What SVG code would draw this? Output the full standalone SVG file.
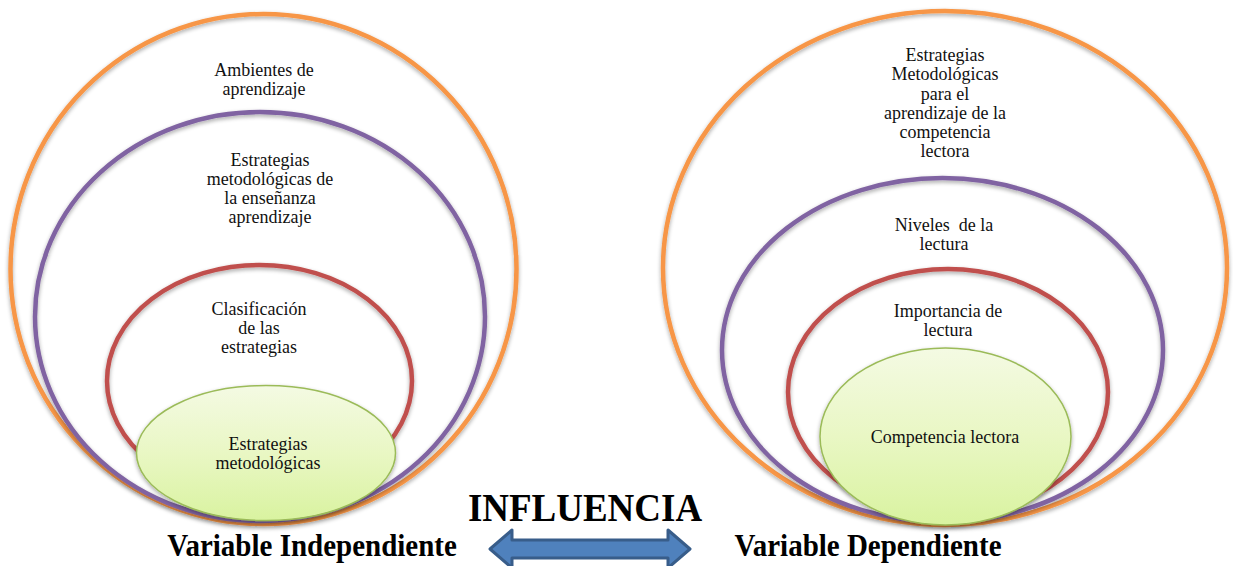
<svg xmlns="http://www.w3.org/2000/svg" width="1233" height="566" viewBox="0 0 1233 566">
  <defs>
    <linearGradient id="gGreen" x1="0" y1="0" x2="0" y2="1">
      <stop offset="0" stop-color="#F4FAE3"/>
      <stop offset="0.5" stop-color="#E9F7C4"/>
      <stop offset="1" stop-color="#D9F3A0"/>
    </linearGradient>
    <filter id="sh" x="-10%" y="-10%" width="120%" height="125%">
      <feGaussianBlur in="SourceAlpha" stdDeviation="2"/>
      <feOffset dx="0" dy="2" result="b"/>
      <feComponentTransfer><feFuncA type="linear" slope="0.35"/></feComponentTransfer>
      <feMerge><feMergeNode/><feMergeNode in="SourceGraphic"/></feMerge>
    </filter>
  </defs>
  <style>
    .ring { fill: none; stroke-width: 4.5; }
    .orange { stroke: #F79646; }
    .purple { stroke: #8064A2; }
    .red { stroke: #C0504D; }
    .green { fill: url(#gGreen); stroke: #9BBB59; stroke-width: 1.5; }
    .t { font-family: "Liberation Serif", "Times New Roman", serif; font-size: 18px; fill: #111; text-anchor: middle; }
    .b { font-family: "Liberation Serif", "Times New Roman", serif; font-weight: bold; fill: #000; text-anchor: middle; }
  </style>

  <!-- Left set -->
  <g id="left-ambientes">
    <ellipse class="ring orange" cx="263.5" cy="269" rx="253" ry="255" filter="url(#sh)"/>
    <text class="t" transform="translate(264,76) scale(1,1.05)">Ambientes de</text>
    <text class="t" transform="translate(264,95) scale(1,1.05)">aprendizaje</text>
  </g>
  <g id="left-estrategias-ensenanza">
    <ellipse class="ring purple" cx="260" cy="316.5" rx="225" ry="204.5" filter="url(#sh)"/>
    <text class="t" transform="translate(270,166) scale(1,1.05)">Estrategias</text>
    <text class="t" transform="translate(270,185) scale(1,1.05)">metodológicas de</text>
    <text class="t" transform="translate(270,204) scale(1,1.05)">la enseñanza</text>
    <text class="t" transform="translate(270,223) scale(1,1.05)">aprendizaje</text>
  </g>
  <g id="left-clasificacion">
    <ellipse class="ring red" cx="259.5" cy="381" rx="152.5" ry="116" filter="url(#sh)"/>
    <text class="t" transform="translate(259,315) scale(1,1.05)">Clasificación</text>
    <text class="t" transform="translate(259,334) scale(1,1.05)">de las</text>
    <text class="t" transform="translate(259,353) scale(1,1.05)">estrategias</text>
  </g>
  <g id="left-estrategias-metodologicas">
    <ellipse class="green" cx="266" cy="453" rx="129.5" ry="67.5" filter="url(#sh)"/>
    <text class="t" transform="translate(268,450) scale(1,1.05)">Estrategias</text>
    <text class="t" transform="translate(268,469) scale(1,1.05)">metodológicas</text>
  </g>

  <!-- Right set -->
  <g id="right-estrategias-competencia">
    <ellipse class="ring orange" cx="945" cy="268" rx="282" ry="257" filter="url(#sh)"/>
    <text class="t" transform="translate(945,61) scale(1,1.05)">Estrategias</text>
    <text class="t" transform="translate(945,80) scale(1,1.05)">Metodológicas</text>
    <text class="t" transform="translate(945,100) scale(1,1.05)">para el</text>
    <text class="t" transform="translate(945,119) scale(1,1.05)">aprendizaje de la</text>
    <text class="t" transform="translate(945,138) scale(1,1.05)">competencia</text>
    <text class="t" transform="translate(945,157) scale(1,1.05)">lectora</text>
  </g>
  <g id="right-niveles">
    <ellipse class="ring purple" cx="942.5" cy="350" rx="220.5" ry="172" filter="url(#sh)"/>
    <text class="t" transform="translate(944,231) scale(1,1.05)" xml:space="preserve">Niveles  de la</text>
    <text class="t" transform="translate(944,250) scale(1,1.05)">lectura</text>
  </g>
  <g id="right-importancia">
    <ellipse class="ring red" cx="948" cy="392" rx="160" ry="123" filter="url(#sh)"/>
    <text class="t" transform="translate(948,317) scale(1,1.05)">Importancia de</text>
    <text class="t" transform="translate(948,336) scale(1,1.05)">lectura</text>
  </g>
  <g id="right-competencia">
    <ellipse class="green" cx="945.5" cy="436.5" rx="125.5" ry="88.5" filter="url(#sh)"/>
    <text class="t" transform="translate(945,443) scale(1,1.05)">Competencia lectora</text>
  </g>

  <!-- Labels -->
  <g id="influencia">
    <text class="b" transform="translate(585,521) scale(1,1.1)" font-size="37">INFLUENCIA</text>
  </g>
  <g id="var-independiente">
    <text class="b" transform="translate(312,556) scale(1,1.1)" font-size="29">Variable Independiente</text>
  </g>
  <g id="var-dependiente">
    <text class="b" transform="translate(868,556) scale(1,1.1)" font-size="29">Variable Dependiente</text>
  </g>

  <!-- Connector -->
  <g id="connectors">
    <path d="M490,549 L512,530 L512,540 L668,540 L668,530 L690,549 L668,568 L668,558 L512,558 L512,568 Z" fill="#4F81BD" stroke="#385D8A" stroke-width="3" stroke-linejoin="round"/>
  </g>
</svg>
